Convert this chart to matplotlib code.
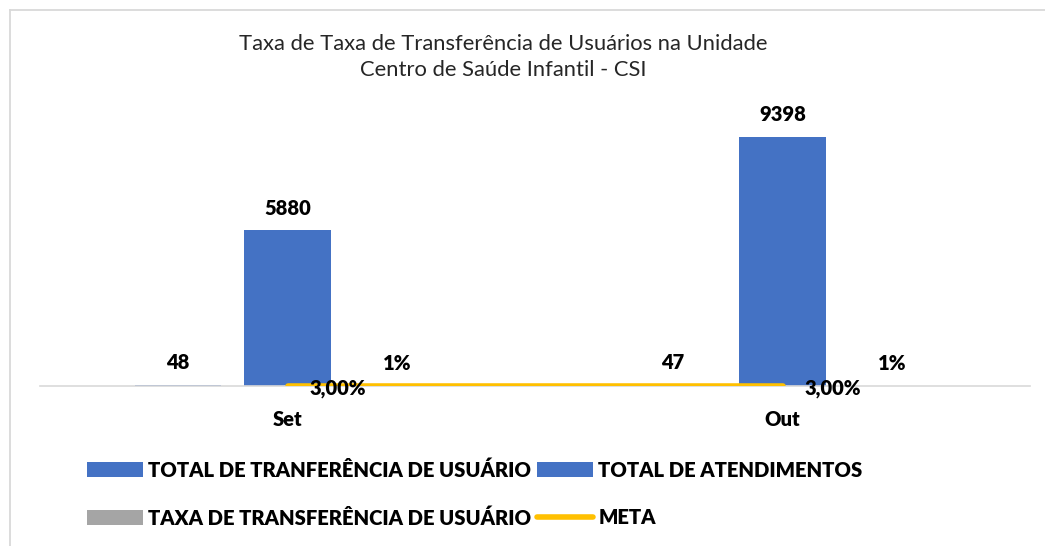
import matplotlib
matplotlib.use('Agg')
import matplotlib.pyplot as plt
import matplotlib.patches as mpatches
from matplotlib.lines import Line2D
import numpy as np

plt.rcParams['font.family'] = ['Lato', 'DejaVu Sans']

# ── data ──────────────────────────────────────────────────────────────────────
categories = ['Set', 'Out']
total_transf = [48, 47]
total_atend = [5880, 9398]
taxa_transf = [0.01, 0.01]
meta = [0.03, 0.03]

series_names = ['TOTAL DE TRANFERÊNCIA DE USUÁRIO', 'TOTAL DE ATENDIMENTOS',
                'TAXA DE TRANSFERÊNCIA DE USUÁRIO', 'META']

# ── palette ───────────────────────────────────────────────────────────────────
C_BLUE = '#4472C4'
C_GRAY = '#A5A5A5'
C_META = '#FFC000'
C_AXIS = '#D9D9D9'
BOLD = 'heavy'

fig = plt.figure(figsize=(10.45, 5.46), dpi=100)
fig.patch.set_facecolor('white')
ax = fig.add_axes([40 / 1045, 160 / 546, 990 / 1045, 265 / 546])

x = np.arange(len(categories))
W = 0.174
OFF = 0.222

b1 = ax.bar(x - OFF, total_transf, W, color=C_BLUE, zorder=2)
b2 = ax.bar(x, total_atend, W, color=C_BLUE, zorder=2)
b3 = ax.bar(x + OFF, taxa_transf, W, color=C_GRAY, zorder=2)
ax.plot(x, meta, color=C_META, lw=4, solid_capstyle='round', zorder=3)

lab_kw = dict(fontsize=14.5, fontweight=BOLD, color='black', padding=9)
ax.bar_label(b1, labels=[str(v) for v in total_transf], **lab_kw)
ax.bar_label(b2, labels=[str(v) for v in total_atend], **lab_kw)
ax.bar_label(b3, labels=[f'{v:.0%}' for v in taxa_transf], **lab_kw)
for xi, v in zip(x, meta):
    ax.annotate(f'{v * 100:.2f}%'.replace('.', ','), xy=(xi, v),
                xytext=(16, -2), textcoords='offset points',
                ha='left', va='center', fontsize=14.5, fontweight=BOLD, zorder=4)

ax.set_xlim(-0.5, 1.5)
ax.set_ylim(0, 10000)
ax.set_xticks(x)
ax.set_xticklabels(categories, fontsize=14.5, fontweight=BOLD)
ax.tick_params(axis='x', length=0, pad=17)
ax.set_yticks([])
for s in ['top', 'right', 'left']:
    ax.spines[s].set_visible(False)
ax.spines['bottom'].set_color(C_AXIS)
ax.spines['bottom'].set_linewidth(1.2)

# ── title ─────────────────────────────────────────────────────────────────────
fig.text(503 / 1045, 1 - 57 / 546,
         'Taxa de Taxa de Transferência de Usuários na Unidade\nCentro de Saúde Infantil - CSI',
         ha='center', va='center', fontsize=15.8, linespacing=1.4, color='#262626')

# ── legend ────────────────────────────────────────────────────────────────────
handles = [
    mpatches.Patch(facecolor=C_BLUE, label=series_names[0]),
    mpatches.Patch(facecolor=C_GRAY, label=series_names[2]),
    mpatches.Patch(facecolor=C_BLUE, label=series_names[1]),
    Line2D([0], [0], color=C_META, lw=4, solid_capstyle='round', label=series_names[3]),
]
leg = fig.legend(handles=handles, loc='center', ncol=2,
                 bbox_to_anchor=(475 / 1045, 1 - 494 / 546),
                 frameon=False, prop={'weight': BOLD, 'size': 14.6},
                 handlelength=2.75, handleheight=0.72, handletextpad=0.25,
                 columnspacing=0.3, labelspacing=1.4)

# ── chart border (top and left visible) ───────────────────────────────────────
fig.add_artist(Line2D([10 / 1045, 1], [1 - 10 / 546, 1 - 10 / 546],
                      transform=fig.transFigure, color=C_AXIS, lw=1.3))
fig.add_artist(Line2D([10 / 1045, 10 / 1045], [0, 1 - 10 / 546],
                      transform=fig.transFigure, color=C_AXIS, lw=1.3))

fig.savefig('out.png', dpi=100, facecolor='white')
plt.close(fig)
